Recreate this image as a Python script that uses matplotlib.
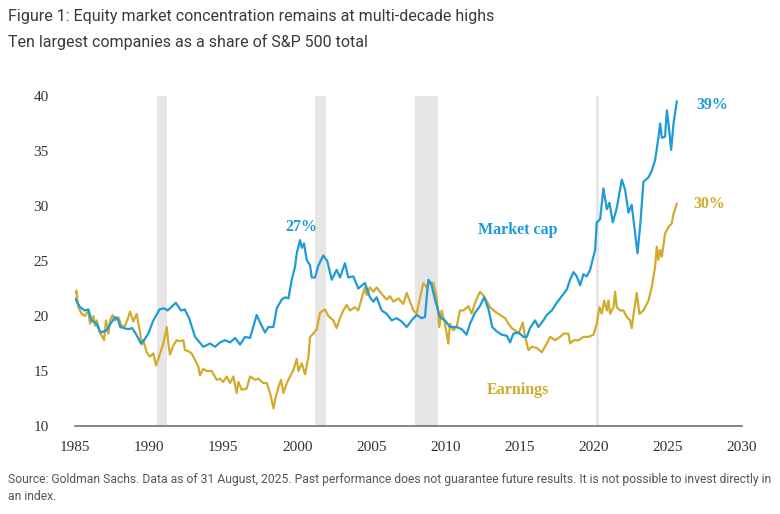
import matplotlib
matplotlib.use("Agg")
import matplotlib.pyplot as plt

# Ten largest companies as share of S&P 500 total (%)
mcap_years = [
    1985.0, 1985.35, 1985.65, 1985.9, 1986.1, 1986.45, 1986.7, 1987.15, 1987.35, 1987.7,
    1987.9, 1988.05, 1988.3, 1988.6, 1988.85, 1989.1, 1989.45, 1989.65, 1989.95, 1990.25,
    1990.7, 1991.0, 1991.25, 1991.8, 1992.15, 1992.4, 1992.7, 1993.1, 1993.66, 1994.11,
    1994.45, 1994.79, 1995.12, 1995.46, 1995.8, 1996.14, 1996.47, 1996.81, 1997.26, 1997.49,
    1997.82, 1998.05, 1998.39, 1998.61, 1998.95, 1999.17, 1999.4, 1999.62, 1999.85, 1999.96,
    2000.18, 2000.3, 2000.45, 2000.63, 2000.86, 2000.97, 2001.2, 2001.42, 2001.75, 2002.02,
    2002.32, 2002.65, 2002.88, 2003.21, 2003.44, 2003.78, 2004.11, 2004.56, 2004.9, 2005.13,
    2005.35, 2005.69, 2006.03, 2006.36, 2006.7, 2007.04, 2007.38, 2007.71, 2008.05, 2008.39,
    2008.61, 2008.84, 2009.06, 2009.29, 2009.63, 2009.96, 2010.3, 2010.75, 2011.09, 2011.42,
    2011.65, 2011.99, 2012.32, 2012.6, 2012.9, 2013.15, 2013.45, 2013.79, 2014.13, 2014.35,
    2014.58, 2014.92, 2015.25, 2015.48, 2015.7, 2016.04, 2016.27, 2016.6, 2016.83, 2017.17,
    2017.5, 2017.84, 2018.18, 2018.4, 2018.63, 2018.85, 2019.08, 2019.3, 2019.53, 2019.75,
    2020.09, 2020.2, 2020.43, 2020.65, 2020.88, 2021.06, 2021.28, 2021.55, 2021.89, 2022.11,
    2022.34, 2022.56, 2022.95, 2023.13, 2023.35, 2023.69, 2023.91, 2024.14, 2024.36, 2024.48,
    2024.59, 2024.81, 2024.93, 2025.04, 2025.22, 2025.38, 2025.6,
]
mcap_share = [
    21.6, 20.8, 20.5, 20.6, 19.6, 19.3, 18.5, 18.7, 19.2, 19.9,
    19.7, 19.0, 18.9, 18.8, 18.9, 18.4, 17.5, 17.8, 18.4, 19.5,
    20.6, 20.7, 20.5, 21.2, 20.5, 20.6, 19.8, 18.1, 17.2, 17.5,
    17.2, 17.6, 17.8, 17.6, 18.0, 17.4, 18.1, 18.0, 20.1, 19.4,
    18.5, 19.0, 19.0, 20.7, 21.5, 21.7, 21.6, 23.3, 24.5, 25.7,
    26.9, 26.2, 26.6, 25.1, 24.6, 23.5, 23.5, 24.6, 25.5, 25.0,
    23.3, 24.2, 23.5, 24.8, 23.5, 23.6, 22.5, 23.0, 21.7, 21.3,
    21.7, 20.5, 20.2, 19.6, 19.8, 19.5, 19.0, 19.6, 20.1, 19.8,
    19.9, 23.3, 22.8, 21.5, 19.9, 19.6, 19.0, 19.0, 18.8, 18.3,
    19.3, 20.3, 20.9, 21.7, 20.6, 19.0, 18.6, 18.3, 18.2, 17.6,
    18.4, 18.5, 18.1, 18.1, 18.9, 19.6, 19.0, 19.6, 20.1, 20.5,
    21.2, 21.8, 22.4, 23.3, 24.0, 23.6, 22.8, 23.8, 23.6, 24.2,
    26.0, 28.5, 28.8, 31.6, 29.7, 30.3, 28.5, 29.8, 32.4, 31.5,
    29.4, 30.1, 25.7, 28.2, 32.2, 32.6, 33.2, 34.2, 36.2, 37.5,
    36.2, 36.3, 38.7, 37.5, 35.1, 37.5, 39.5,
]

earn_years = [
    1985.0, 1985.1, 1985.22, 1985.45, 1985.67, 1985.9, 1986.01, 1986.24, 1986.35, 1986.46,
    1986.69, 1986.96, 1987.09, 1987.25, 1987.36, 1987.54, 1987.7, 1987.92, 1988.15, 1988.37,
    1988.6, 1988.71, 1988.94, 1989.16, 1989.39, 1989.5, 1989.61, 1989.84, 1990.06, 1990.28,
    1990.47, 1990.74, 1990.96, 1991.19, 1991.3, 1991.41, 1991.63, 1991.86, 1992.08, 1992.31,
    1992.42, 1992.65, 1992.87, 1993.1, 1993.32, 1993.43, 1993.66, 1993.88, 1994.22, 1994.56,
    1994.78, 1995.0, 1995.23, 1995.46, 1995.68, 1995.91, 1996.02, 1996.25, 1996.58, 1996.81,
    1997.15, 1997.37, 1997.71, 1997.94, 1998.16, 1998.39, 1998.5, 1998.72, 1998.9, 1999.06,
    1999.29, 1999.51, 1999.74, 1999.96, 2000.07, 2000.3, 2000.52, 2000.75, 2000.86, 2001.08,
    2001.31, 2001.53, 2001.87, 2002.09, 2002.43, 2002.65, 2002.88, 2003.1, 2003.33, 2003.55,
    2003.89, 2004.11, 2004.34, 2004.56, 2004.68, 2004.9, 2005.13, 2005.35, 2005.69, 2006.03,
    2006.25, 2006.48, 2006.81, 2007.15, 2007.38, 2007.6, 2007.83, 2008.05, 2008.28, 2008.5,
    2008.73, 2008.95, 2009.18, 2009.4, 2009.58, 2009.74, 2009.96, 2010.19, 2010.3, 2010.52,
    2010.75, 2010.97, 2011.2, 2011.54, 2011.76, 2011.99, 2012.32, 2012.6, 2012.8, 2013.0,
    2013.34, 2013.68, 2014.02, 2014.24, 2014.47, 2014.69, 2014.92, 2015.21, 2015.37, 2015.59,
    2015.82, 2016.15, 2016.49, 2016.83, 2017.05, 2017.39, 2017.73, 2017.95, 2018.29, 2018.4,
    2018.63, 2018.97, 2019.3, 2019.64, 2019.98, 2020.2, 2020.38, 2020.54, 2020.7, 2020.88,
    2020.99, 2021.1, 2021.33, 2021.44, 2021.55, 2021.78, 2022.0, 2022.23, 2022.45, 2022.56,
    2022.72, 2022.9, 2023.08, 2023.35, 2023.69, 2023.91, 2024.14, 2024.25, 2024.36, 2024.48,
    2024.59, 2024.81, 2025.04, 2025.26, 2025.38, 2025.6,
]
earn_share = [
    22.1, 22.3, 20.8, 20.2, 20.0, 20.5, 19.3, 20.0, 19.1, 19.6,
    18.5, 17.8, 19.6, 18.4, 19.6, 20.1, 19.6, 19.9, 19.1, 19.1,
    19.9, 20.4, 19.5, 20.2, 18.5, 17.4, 17.8, 16.7, 16.3, 16.6,
    15.5, 16.6, 17.5, 19.0, 17.5, 16.5, 17.3, 17.8, 17.7, 17.8,
    16.9, 16.8, 16.6, 16.0, 15.4, 14.6, 15.2, 15.0, 15.0, 14.2,
    14.3, 14.0, 14.5, 13.9, 14.5, 13.0, 14.0, 13.3, 13.4, 14.5,
    14.2, 14.3, 13.9, 13.9, 13.0, 11.6, 12.4, 13.5, 14.2, 13.0,
    13.9, 14.5, 15.1, 16.1, 15.0, 15.7, 14.7, 16.3, 18.1, 18.4,
    18.8, 20.3, 20.6, 20.0, 19.6, 18.9, 19.8, 20.5, 21.0, 20.5,
    20.8, 20.5, 21.6, 22.6, 21.9, 22.6, 22.2, 22.6, 22.0, 21.5,
    21.8, 21.3, 21.6, 21.1, 22.1, 21.3, 20.5, 20.2, 21.7, 23.0,
    22.6, 23.1, 23.0, 21.7, 19.0, 20.5, 19.3, 17.5, 19.3, 18.7,
    19.0, 20.5, 20.5, 20.9, 20.2, 21.2, 22.2, 21.8, 21.3, 20.8,
    20.4, 20.1, 19.8, 19.3, 18.9, 18.7, 18.4, 19.4, 18.1, 16.9,
    17.2, 17.1, 16.7, 17.5, 18.1, 17.8, 18.1, 18.4, 18.4, 17.5,
    17.8, 17.8, 18.1, 18.1, 18.3, 19.3, 20.8, 20.2, 21.4, 20.5,
    21.4, 20.2, 20.8, 22.2, 20.8, 20.5, 20.5, 19.9, 19.6, 18.9,
    20.5, 22.1, 20.2, 20.5, 21.4, 22.6, 24.5, 26.3, 25.1, 26.0,
    25.4, 27.5, 28.1, 28.4, 29.3, 30.2,
]

# recession bands (start, end)
rec_start = [1990.53, 2001.2, 2007.94, 2020.16]
rec_end = [1991.21, 2001.92, 2009.5, 2020.33]

x_ticks = list(range(1985, 2031, 5))
y_ticks = list(range(10, 41, 5))

BLUE = "#1f9bd7"
GOLD = "#d2ab2e"
SERIF = ["Liberation Serif", "DejaVu Serif"]
SANS = ["Roboto", "DejaVu Sans"]
NARROW = ["Liberation Sans Narrow", "Roboto", "DejaVu Sans"]

fig = plt.figure(figsize=(7.8, 5.14), dpi=100)
ax = fig.add_axes([75 / 780, 1 - 426 / 514, 667 / 780, 330 / 514])

for s, e in zip(rec_start, rec_end):
    ax.axvspan(s, e, color="#e6e6e6", lw=0, zorder=0)

ax.plot(mcap_years, mcap_share, color=BLUE, lw=1.6, zorder=3)
ax.plot(earn_years, earn_share, color=GOLD, lw=1.6, zorder=2)

ax.set_xlim(1985, 2030)
ax.set_ylim(10, 40)
ax.set_xticks(x_ticks)
ax.set_yticks(y_ticks)
for lab in ax.get_xticklabels() + ax.get_yticklabels():
    lab.set_family(SERIF)
    lab.set_fontsize(11)
    lab.set_color("#333333")
ax.tick_params(axis="both", length=0)
ax.tick_params(axis="y", pad=19)
ax.tick_params(axis="x", pad=11)

for side in ["top", "right", "left"]:
    ax.spines[side].set_visible(False)
ax.spines["bottom"].set_color("#666666")
ax.spines["bottom"].set_linewidth(1.1)

# annotations
lab_kw = dict(family=SERIF, fontweight="bold", fontsize=11.5)
ax.text(2000.3, 28.05, "27%", color=BLUE, ha="center", va="center", **lab_kw)
ax.text(2014.9, 27.8, "Market cap", color=BLUE, ha="center", va="center", **lab_kw)
ax.text(2028.0, 39.2, "39%", color=BLUE, ha="center", va="center", **lab_kw)
ax.text(2027.8, 30.2, "30%", color=GOLD, ha="center", va="center", **lab_kw)
ax.text(2014.85, 13.3, "Earnings", color=GOLD, ha="center", va="center", **lab_kw)

# titles and source
fig.text(8 / 780, 1 - 17 / 514, "Figure 1: Equity market concentration remains at multi-decade highs",
         family=SANS, fontsize=11.5, color="#3a3a3a", va="center", ha="left")
fig.text(8 / 780, 1 - 42 / 514, "Ten largest companies as a share of S&P 500 total",
         family=SANS, fontsize=11.5, color="#3a3a3a", va="center", ha="left")
fig.text(8 / 780, 1 - 479 / 514,
         "Source: Goldman Sachs. Data as of 31 August, 2025. Past performance does not guarantee future results. "
         "It is not possible to invest directly in",
         family=NARROW, fontsize=8.75, color="#555555", va="center", ha="left")
fig.text(8 / 780, 1 - 496 / 514, "an index.",
         family=NARROW, fontsize=8.75, color="#555555", va="center", ha="left")

fig.savefig("out.png", dpi=100)
